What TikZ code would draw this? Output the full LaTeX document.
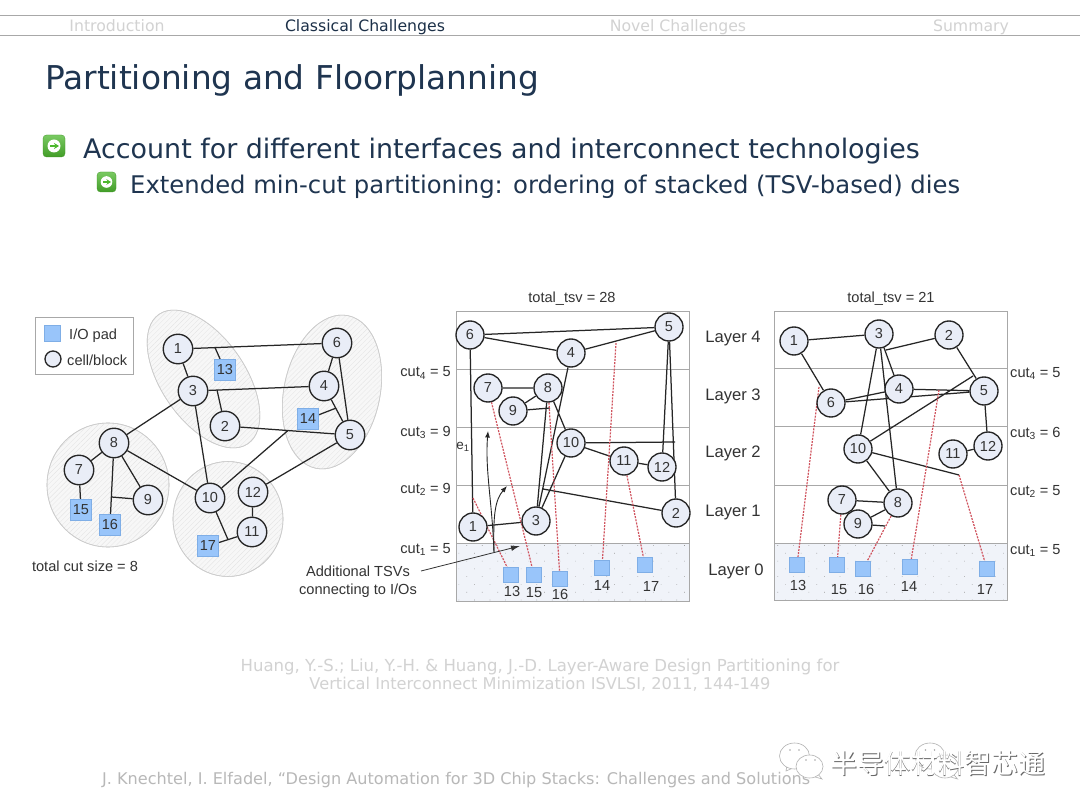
\documentclass[tikz,border=0pt]{standalone}
\usepackage{fontspec}
\setmainfont{Liberation Sans}
\newfontfamily\vfont{DejaVu Sans}
\newfontfamily\cjkfont{Noto Sans CJK SC}
\usetikzlibrary{arrows.meta,shapes.geometric,patterns.meta,calc}
\definecolor{navy}{HTML}{1F3550}
\definecolor{ink}{HTML}{333333}
\definecolor{cellfill}{HTML}{E9EDF7}
\definecolor{padfill}{HTML}{99C5FA}
\definecolor{padedge}{HTML}{7FAEE6}
\definecolor{rule}{HTML}{A8A8A8}
\definecolor{pale}{HTML}{D2D2D2}
\definecolor{tsv}{HTML}{D0535E}
\definecolor{leaf}{HTML}{4DB82E}
\pgfdeclarelayer{backmost}
\pgfdeclarelayer{edges}
\pgfsetlayers{backmost,edges,main}
\tikzset{
 cellnode/.style={circle,draw=black!85,line width=1.35pt,fill=cellfill,minimum size=29.5pt,inner sep=0pt,text=ink,font=\fontsize{14.5}{15}\selectfont},
 smallcell/.style={cellnode,minimum size=28pt},
 padnode/.style={rectangle,draw=padedge,line width=.7pt,fill=padfill,minimum size=21pt,inner sep=0pt,text=ink,font=\fontsize{14.5}{15}\selectfont},
 tsvpad/.style={rectangle,draw=padedge,line width=.7pt,fill=padfill,minimum size=15pt,inner sep=0pt},
 wire/.style={draw=black!85,line width=1.25pt},
 tsvline/.style={draw=tsv,line width=1.2pt,dash pattern=on 2pt off 1.2pt},
 cluster/.style={ellipse,draw=black!20,line width=.6pt,inner sep=0pt},
 hatch/.style={pattern={Lines[angle=45,distance=3.5pt,line width=.25pt]},pattern color=black!12},
 lab/.style={text=ink,font=\fontsize{14.6}{16}\selectfont,inner sep=0pt,yshift=-1.5pt},
 layerlab/.style={text=ink,font=\fontsize{16.6}{18}\selectfont,inner sep=0pt,yshift=-1pt},
 frameline/.style={draw=rule,line width=1pt},
 navlab/.style={inner sep=0pt,anchor=base,font=\vfont\fontsize{15.7}{17}\selectfont},
 paletext/.style={inner sep=0pt,text=pale,font=\vfont\fontsize{16.2}{18}\selectfont},
 bullet/.style={rounded corners=3.5pt,top color=leaf!75!white,bottom color=leaf!85!black,draw=leaf!80!black,line width=.3pt},
 headtext/.style={inner sep=0pt,anchor=west,text=navy},
 noteline/.style={draw=black!80,line width=.8pt,-{Latex[length=9pt,width=5.5pt]}},
 curvenote/.style={draw=black!85,line width=.9pt,-{Latex[length=6.5pt,width=5pt]}},
 bubble/.style={ellipse,draw=black!30,fill=white,line width=.6pt,inner sep=0pt},
}
\begin{document}
\begin{tikzpicture}[x=1pt,y=-1pt]
\useasboundingbox (0,0) rectangle (1080,810);
\begin{pgfonlayer}{backmost}
\fill[white] (0,0) rectangle (1080,810);
\end{pgfonlayer}
% header
\coordinate (hl1) at (0,15.5); \coordinate (hr1) at (1080,15.5);
\coordinate (hl2) at (0,35.5); \coordinate (hr2) at (1080,35.5);
\draw[rule,line width=.8pt] (hl1)--(hr1) (hl2)--(hr2);
\node[navlab,text=pale] (nav1) at (117,32) {Introduction};
\node[navlab,text=navy!90!black] (nav2) at (365,32) {Classical Challenges};
\node[navlab,text=pale] (nav3) at (678,32) {Novel Challenges};
\node[navlab,text=pale] (nav4) at (971,32) {Summary};
\node[headtext,font=\vfont\fontsize{32.8}{36}\selectfont] (title) at (45,80) {Partitioning and Floorplanning};
% bullets
\draw[bullet] (43,135) rectangle (65,157);
\fill[white] (54,146) circle (6.5pt);
\draw[leaf,line width=1.6pt,-{Stealth[length=5pt,width=6pt]}] (50,146)--(59,146);
\draw[bullet] (97,172) rectangle (116,192);
\fill[white] (106.5,182) circle (5.8pt);
\draw[leaf,line width=1.4pt,-{Stealth[length=4.5pt,width=5.5pt]}] (103,182)--(111,182);
\node[headtext,font=\vfont\fontsize{26.9}{30}\selectfont] (b1) at (83,151) {Account for different interfaces and interconnect technologies};
\node[headtext,font=\vfont\fontsize{24.3}{28}\selectfont] (b2) at (130,186.5) {Extended min-cut partitioning: ordering of stacked (TSV-based) dies};
% legend
\draw[rule,line width=1pt,fill=white] (35,318) rectangle (133,375);
\node[rectangle,draw=padedge,line width=.7pt,fill=padfill,minimum size=16pt,inner sep=0pt] (legpad) at (52,333) {};
\node[circle,draw=black!85,line width=1.3pt,fill=cellfill,minimum size=16pt,inner sep=0pt] (legcell) at (53,359) {};
\node[lab,anchor=west] (legt1) at (69,334) {I/O pad};
\node[lab,anchor=west] (legt2) at (67,359) {cell/block};
% left graph clusters
\begin{pgfonlayer}{backmost}
\foreach \nm/\cx/\cy/\ew/\eh/\rt in {cA/203.5/379/157/84/-55.5, cB/332/392/156/96/78, cC/108/485/122/124/0, cD/228/519/110/115/0}{
 \node[cluster,fill=black!3,minimum width=\ew pt,minimum height=\eh pt,rotate=\rt] (\nm) at (\cx,\cy) {};
 \node[cluster,hatch,minimum width=\ew pt,minimum height=\eh pt,rotate=\rt] (\nm h) at (\cx,\cy) {};
}
\end{pgfonlayer}
\node[cellnode] (a1) at (178,349) {1};
\node[cellnode] (a3) at (193,391) {3};
\node[cellnode] (a2) at (225,426) {2};
\node[cellnode] (a6) at (337,343) {6};
\node[cellnode] (a4) at (324,386) {4};
\node[cellnode] (a5) at (350,435) {5};
\node[cellnode] (a8) at (114,443) {8};
\node[cellnode] (a7) at (79,470) {7};
\node[cellnode] (a9) at (148,500) {9};
\node[cellnode] (a10) at (210,498) {10};
\node[cellnode] (a12) at (253,492) {12};
\node[cellnode] (a11) at (252,532) {11};
\node[padnode] (a13) at (225,370) {13};
\node[padnode] (a14) at (308,419) {14};
\node[padnode] (a15) at (81,510) {15};
\node[padnode] (a16) at (110,525) {16};
\node[padnode] (a17) at (208,546) {17};
\coordinate (ja13) at (215,347.6);
\coordinate (ja2) at (217,390);
\coordinate (ja10) at (288,430.5);
\coordinate (ja14) at (335,408.5);
\coordinate (ja9) at (111.4,497);
\coordinate (ja17) at (228,539.6);
\begin{pgfonlayer}{edges}
\draw[wire] (a1)--(a6) (ja13)--(a13) (a1)--(a3) (a3)--(a4) (ja2)--(a2)
 (a3)--(a8) (a3)--(a10) (a2)--(a5) (a10)--(ja10) (a6)--(a4) (a6)--(a5) (a4)--(a5)
 (a14)--(ja14) (a5)--(a12) (a8)--(a7) (a8)--(a10) (a8)--(a9) (a8)--(a16) (ja9)--(a9)
 (a7)--(a15) (a10)--(ja17) (a17)--(a11) (a12)--(a11);
\end{pgfonlayer}
\node[lab] (totcut) at (85,564.5) {total cut size = 8};
% middle panel
\begin{pgfonlayer}{backmost}
\fill[cellfill!70] (456,543) rectangle (689,601);
\fill[pattern={Dots[radius=.45pt,distance=11pt,angle=45]},pattern color=black!40] (456,543) rectangle (689,601);
\draw[frameline] (456,311.5) rectangle (689,601);
\draw[frameline] (456,369.5)--(689,369.5) (456,427.5)--(689,427.5) (456,485.5)--(689,485.5) (456,543.5)--(689,543.5);
\end{pgfonlayer}
\node[lab] (t1) at (572,297.5) {total\_tsv = 28};
\node[smallcell] (b6) at (470,335) {6};
\node[smallcell] (b5) at (669,327) {5};
\node[smallcell] (b4) at (571,353) {4};
\node[smallcell] (b7) at (488,388) {7};
\node[smallcell] (b8) at (548,388) {8};
\node[smallcell] (b9) at (513,411) {9};
\node[smallcell] (b10) at (571,443) {10};
\node[smallcell] (b11) at (624,461) {11};
\node[smallcell] (b12) at (662,467) {12};
\node[smallcell] (b1) at (473,527) {1};
\node[smallcell] (b3) at (536,521) {3};
\node[smallcell] (b2) at (676,513) {2};
\node[tsvpad] (b13) at (511,575) {};
\node[tsvpad] (b15) at (534,575) {};
\node[tsvpad] (b16) at (560,579) {};
\node[tsvpad] (b14) at (602,568) {};
\node[tsvpad] (b17) at (645,565) {};
\node[lab] (bl13) at (512,590) {13};
\node[lab] (bl15) at (534,591) {15};
\node[lab] (bl16) at (560,593) {16};
\node[lab] (bl14) at (602,584) {14};
\node[lab] (bl17) at (651,585) {17};
\coordinate (jb9) at (550,408);
\coordinate (jb10) at (675,442);
\coordinate (jb2) at (543,489);
\coordinate (jb1) at (473,498);
\coordinate (jb14) at (616,343);
\coordinate (jbs) at (494,552);
\coordinate (jbe1) at (488,431);
\coordinate (jbe2) at (507,486);
\coordinate (jbn) at (421,571);
\coordinate (jbm) at (520,546);
\begin{pgfonlayer}{edges}
\draw[wire] (b6)--(b5) (b6)--(b4) (b4)--(b5) (b6)--(b1) (b7)--(b8) (b9)--(b8) (b9)--(jb9)
 (b8)--(b3) (b8)--(b10) (b4)--(b3) (b10)--(b3) (b10)--(jb10) (b10)--(b11) (b11)--(b12)
 (b5)--(b12) (b5)--(b2) (b2)--(jb2) (b1)--(b3);
\draw[tsvline] (jb1)--(b13) (b7)--(b15) (b8)--(b16) (jb14)--(b14) (b11)--(b17);
\end{pgfonlayer}
\draw[curvenote] (jbs)..controls (492,500) and (485,470)..(jbe1);
\draw[curvenote] (jbs)..controls (493,515) and (495,500)..(jbe2);
\draw[noteline] (jbn)--(jbm);
\node[inner sep=0pt,text=ink,font=\fontsize{13.5}{14}\selectfont] (e1) at (463,447) {e\textsubscript{1}};
\node[lab,align=center,font=\fontsize{14.6}{17.5}\selectfont] (tsvnote) at (358,580) {Additional TSVs\\connecting to I/Os};
\node[lab,anchor=east] (mc4) at (451,371.5) {cut\textsubscript{4} = 5};
\node[lab,anchor=east] (mc3) at (451,431) {cut\textsubscript{3} = 9};
\node[lab,anchor=east] (mc2) at (451,488) {cut\textsubscript{2} = 9};
\node[lab,anchor=east] (mc1) at (451,548) {cut\textsubscript{1} = 5};
% right panel
\begin{pgfonlayer}{backmost}
\fill[cellfill!70] (774,543) rectangle (1007,600);
\fill[pattern={Dots[radius=.45pt,distance=11pt,angle=45]},pattern color=black!40] (774,543) rectangle (1007,600);
\draw[frameline] (774,311.5) rectangle (1007,600);
\draw[frameline] (774,369)--(1007,369) (774,427)--(1007,427) (774,485)--(1007,485) (774,543)--(1007,543);
\end{pgfonlayer}
\node[lab] (t2) at (891,297.5) {total\_tsv = 21};
\node[layerlab] (L4) at (733,338) {Layer 4};
\node[layerlab] (L3) at (733,395) {Layer 3};
\node[layerlab] (L2) at (733,452) {Layer 2};
\node[layerlab] (L1) at (733,512) {Layer 1};
\node[layerlab] (L0) at (736,570) {Layer 0};
\node[smallcell] (c1) at (794,341) {1};
\node[smallcell] (c3) at (879,334) {3};
\node[smallcell] (c2) at (949,335) {2};
\node[smallcell] (c4) at (899,389) {4};
\node[smallcell] (c5) at (984,391) {5};
\node[smallcell] (c6) at (831,403) {6};
\node[smallcell] (c10) at (858,449) {10};
\node[smallcell] (c11) at (953,454) {11};
\node[smallcell] (c12) at (988,446) {12};
\node[smallcell] (c7) at (842,500) {7};
\node[smallcell] (c8) at (898,503) {8};
\node[smallcell] (c9) at (858,524) {9};
\node[tsvpad] (c13) at (797,565) {};
\node[tsvpad] (c15) at (837,565) {};
\node[tsvpad] (c16) at (863,569) {};
\node[tsvpad] (c14) at (910,567) {};
\node[tsvpad] (c17) at (987,569) {};
\node[lab] (cl13) at (798,584) {13};
\node[lab] (cl15) at (839,588) {15};
\node[lab] (cl16) at (866,588) {16};
\node[lab] (cl14) at (909,585) {14};
\node[lab] (cl17) at (985,588) {17};
\coordinate (jc2) at (886,350);
\coordinate (jc5) at (973,376);
\coordinate (jc11) at (959,475);
\coordinate (jc9) at (885,526);
\coordinate (jc13) at (819,387);
\coordinate (jc14) at (939,390);
\begin{pgfonlayer}{edges}
\draw[wire] (c1)--(c3) (c1)--(c6) (c3)--(c4) (jc2)--(c2) (c3)--(c10) (c3)--(c8) (c2)--(c5)
 (c10)--(jc5) (c4)--(c5) (c4)--(c6) (c6)--(c5) (c5)--(c12) (c11)--(c12) (c10)--(c8)
 (c10)--(jc11) (c7)--(c8) (c9)--(c8) (c9)--(jc9);
\draw[tsvline] (jc13)--(c13) (c7)--(c15) (c8)--(c16) (jc14)--(c14) (jc11)--(c17);
\end{pgfonlayer}
\node[lab,anchor=west] (rc4) at (1010,372) {cut\textsubscript{4} = 5};
\node[lab,anchor=west] (rc3) at (1010,432) {cut\textsubscript{3} = 6};
\node[lab,anchor=west] (rc2) at (1010,490) {cut\textsubscript{2} = 5};
\node[lab,anchor=west] (rc1) at (1010,549) {cut\textsubscript{1} = 5};
% reference
\node[paletext,font=\vfont\fontsize{16.55}{18}\selectfont] (ref1) at (540,666.5) {Huang, Y.-S.; Liu, Y.-H. \& Huang, J.-D. Layer-Aware Design Partitioning for};
\node[paletext] (ref2) at (540,684.5) {Vertical Interconnect Minimization ISVLSI, 2011, 144-149};
\node[paletext,anchor=west,text=black!28,font=\vfont\fontsize{16.1}{18}\selectfont] (foot) at (102,780.5) {J. Knechtel, I. Elfadel, “Design Automation for 3D Chip Stacks: Challenges and Solutions”};
% watermark
\foreach \wx in {788,923.5}{
 \draw[black!30,fill=white,line width=.6pt] (\wx-1,765)--(\wx-2,771)--(\wx+5,768)--cycle;
 \node[bubble,minimum width=30pt,minimum height=26pt] at (\wx+6.5,756) {};
 \draw[black!30,fill=white,line width=.6pt] (\wx+29,773)--(\wx+34,779)--(\wx+24,776)--cycle;
 \node[bubble,minimum width=27pt,minimum height=23pt] at (\wx+21.5,766.5) {};
 \fill[black!35] (\wx+2,750) circle (.9pt) (\wx+11,750) circle (.9pt) (\wx+18,760) circle (.8pt) (\wx+27,760) circle (.8pt);
}
\node[inner sep=0pt,text=black!60,font=\cjkfont\fontsize{26.9}{28}\selectfont] (wm0) at (938.7,764) {半导体材料智芯通};
\node[inner sep=0pt,text=white,font=\cjkfont\fontsize{26.9}{28}\selectfont] (wm1) at (938,763.3) {半导体材料智芯通};
\end{tikzpicture}
\end{document}
